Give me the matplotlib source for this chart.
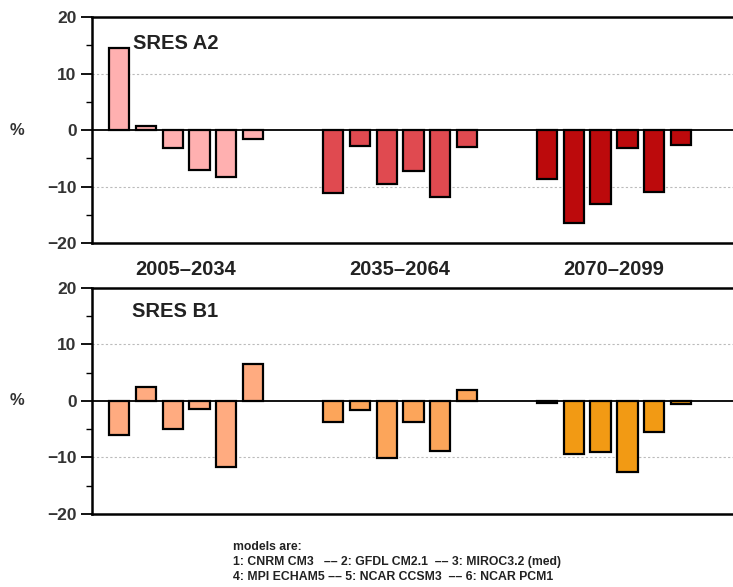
import numpy as np
import matplotlib.pyplot as plt
from matplotlib.ticker import MultipleLocator

plt.rcParams['font.family'] = ['Liberation Sans', 'DejaVu Sans']

# Daten: Niederschlagsänderung in % je Modell (1..6) und Zeitraum
perioden = ['2005–2034', '2035–2064', '2070–2099']
a2_werte = [
    [14.5, 0.7, -3.1, -7.0, -8.4, -1.6],
    [-11.1, -2.8, -9.6, -7.2, -11.8, -3.0],
    [-8.6, -16.4, -13.1, -3.1, -11.0, -2.7],
]
b1_werte = [
    [-6.0, 2.5, -5.0, -1.5, -11.6, 6.5],
    [-3.7, -1.6, -10.1, -3.7, -8.9, 1.9],
    [-0.4, -9.3, -9.1, -12.6, -5.5, -0.6],
]
a2_farben = ['#ffb0b0', '#e04a50', '#bc0a0c']
b1_farben = ['#ffab80', '#fca55a', '#f29a14']

fig = plt.figure(figsize=(7.33, 5.87), dpi=100)
ax1 = fig.add_axes([0.1255, 0.586, 0.8745, 0.385])
ax2 = fig.add_axes([0.1255, 0.1244, 0.8745, 0.385])


def panel(ax, werte, farben, titel, titel_y):
    for g, (reihe, farbe) in enumerate(zip(werte, farben)):
        x = g * 8 + np.arange(len(reihe))
        ax.bar(x, reihe, width=0.76, color=farbe, edgecolor='black',
               linewidth=1.6, zorder=3)
    ax.set_xlim(-1.02, 22.95)
    ax.set_ylim(-20, 20)
    ax.axhline(0, color='black', linewidth=1.3, zorder=4)
    for y in (-10, 10):
        ax.axhline(y, color='#bbbbbb', linewidth=0.8, linestyle=(0, (2, 2)), zorder=1)
    ax.yaxis.set_major_locator(MultipleLocator(10))
    ax.yaxis.set_minor_locator(MultipleLocator(5))
    ax.tick_params(axis='y', which='major', length=8, width=1.3, direction='out',
                   labelsize=12.5, pad=3)
    ax.tick_params(axis='y', which='minor', length=4, width=1.0, direction='out')
    for lab in ax.get_yticklabels():
        lab.set_fontweight('bold')
        lab.set_color('#333333')
    ax.set_xticks([])
    for s in ('left', 'top', 'bottom'):
        ax.spines[s].set_linewidth(1.8)
    ax.spines['right'].set_visible(False)
    # "%" als y-Beschriftung links neben der Achse
    ax.text(-0.117, 0.5, '%', transform=ax.transAxes, fontsize=12,
            fontweight='bold', color='#333333', ha='center', va='center')
    ax.text(2.1, titel_y, titel, fontsize=14.5, fontweight='bold', color='#222222',
            va='center', ha='center')


panel(ax1, a2_werte, a2_farben, 'SRES A2', 15.4)
panel(ax2, b1_werte, b1_farben, 'SRES B1', 15.9)

for g, p in enumerate(perioden):
    ax1.text(g * 8 + 2.5, -24.7, p, ha='center', va='center', fontsize=14.5,
             fontweight='bold', color='#222222', clip_on=False)

fig.text(233 / 733, 1 - 547 / 587, 'models are:', fontsize=8.8, fontweight='bold',
         color='#222222', va='center')
fig.text(233 / 733, 1 - 562 / 587, '1: CNRM CM3   –– 2: GFDL CM2.1  –– 3: MIROC3.2 (med)',
         fontsize=8.8, fontweight='bold', color='#222222', va='center')
fig.text(233 / 733, 1 - 577 / 587, '4: MPI ECHAM5 –– 5: NCAR CCSM3  –– 6: NCAR PCM1',
         fontsize=8.8, fontweight='bold', color='#222222', va='center')

fig.savefig('out.png', dpi=100)
